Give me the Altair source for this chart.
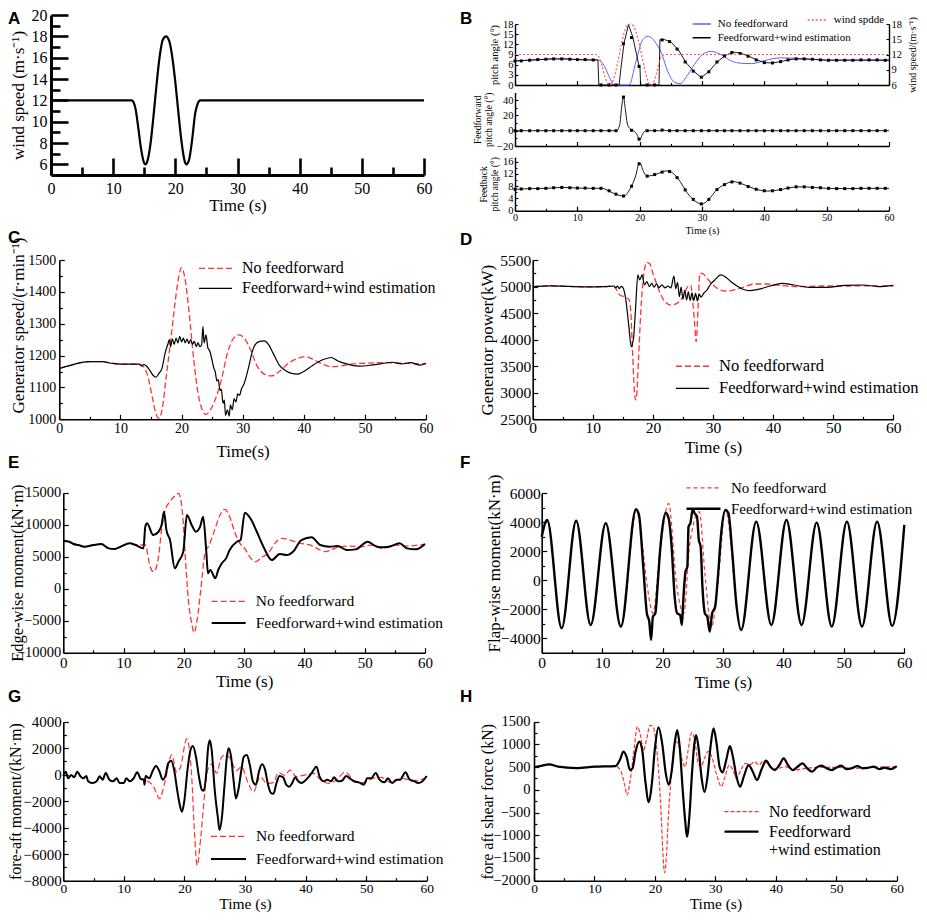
import altair as alt
import pandas as pd

W, H = 911, 904
SERIF = "Liberation Serif"
SANS = "Liberation Sans"
RED = "#ff3333"
BLUE = "#5b62ff"
NOFF = "No feedforward"
FF = "Feedforward+wind estimation"
WIND = "wind spdde"

TIME_TICKS = [0, 10, 20, 30, 40, 50, 60]
TIME_MINOR = [5, 15, 25, 35, 45, 55]

# ---------------- A: wind speed ----------------
A_WIND = [(0, 12), (13.0, 12), (13.3, 11.8), (13.6, 11.2), (14.0, 9.6), (14.5, 7.4), (15.0, 6.1), (15.2, 6.0),
          (15.5, 6.3), (16.0, 7.9), (16.5, 10.6), (17.0, 13.6), (17.5, 16.2), (18.0, 17.7), (18.5, 18.0),
          (19.0, 17.6), (19.5, 16.1), (20.0, 13.7), (20.5, 10.8), (21.0, 8.1), (21.5, 6.3), (21.8, 6.0),
          (22.2, 6.4), (22.7, 8.3), (23.2, 10.8), (23.6, 11.7), (24.0, 12), (60, 12)]
A_Y_MAJOR = [6, 8, 10, 12, 14, 16, 18, 20]
A_Y_MINOR = [7, 9, 11, 13, 15, 17, 19]

# ---------------- B: pitch angles ----------------
B_TOP_NOFF = [(0, 7.1), (2, 7.3), (4, 7.5), (6, 7.7), (8, 7.7), (10, 7.5), (12, 7.4), (13.4, 7.4), (14.3, 5.7),
              (15.1, 2.5), (15.9, 0), (18.3, 0), (19.4, 6.9), (20.5, 13.4), (21.4, 14.4), (22.4, 12.9),
              (23.5, 9.4), (24.5, 4.0), (25.6, 0.8), (26.5, 0.4), (27.7, 3.0), (29.1, 6.9), (30.4, 9.4),
              (31.5, 9.9), (33.1, 8.9), (34.7, 7.1), (36.3, 6.4), (38, 6.3), (40, 7.2), (42.5, 8.0),
              (45, 7.9), (47.5, 7.6), (50, 7.4), (55, 7.4), (60, 7.4)]
B_TOP_FF = [(0, 7.1), (2, 7.3), (4, 7.5), (6, 7.7), (8, 7.7), (10, 7.5), (12, 7.4), (13.3, 7.4), (13.45, 0),
            (16.7, 0), (17.0, 5), (17.5, 12.4), (18.2, 17.8), (18.9, 14.2), (19.5, 9.0), (19.9, 5.5),
            (20.05, 5.3), (20.15, 0), (23.1, 0), (23.25, 13.4), (24.0, 13.4), (25.0, 12.7), (26.2, 10.4),
            (27.4, 6.7), (28.7, 4.0), (29.9, 2.2), (31.1, 4.0), (32.5, 6.9), (33.7, 8.7), (35.0, 9.7),
            (36.2, 9.4), (37.5, 8.5), (38.8, 7.4), (40.0, 6.6), (41.3, 6.5), (42.6, 6.9), (43.8, 7.4),
            (45.1, 7.7), (47.5, 7.6), (50, 7.3), (55, 7.3), (60, 7.3)]
B_MID_FF = [(0, 0), (16.3, 0), (16.8, 8), (17.1, 30), (17.4, 44), (17.7, 28), (18.0, 10), (18.4, 3), (19.0, 0),
            (19.5, -4), (20.0, -12), (20.5, -4), (21.0, 0), (23.3, 0), (23.8, 1), (24.3, 0), (60, 0)]
B_BOT_FF = [(0, 7.0), (2.5, 7.2), (5, 7.3), (7.5, 7.6), (10, 7.4), (12, 7.3), (14, 7.3), (14.8, 6.7), (16, 5.5),
            (17.5, 4.8), (18.5, 7.3), (19.3, 11), (20, 15.7), (20.6, 12.8), (21.2, 11.3), (22.5, 11.8),
            (24.3, 13), (25.3, 12.3), (26.5, 9.5), (27.5, 6.2), (28.5, 3.8), (30, 2.2), (31, 3.5), (32.5, 7.1),
            (33.5, 8.4), (35, 9.5), (36.5, 8.7), (38.5, 7.1), (40.5, 6.4), (42, 6.7), (45.5, 7.8), (48, 7.6),
            (50, 7.3), (53, 7.2), (56, 7.3), (60, 7.3)]
B_MARK_T = [0, 1.0, 2.35, 3.65, 4.95, 6.2, 7.5, 8.8, 10.0, 11.25, 12.55, 13.8, 15.1, 16.2, 17.4, 18.7, 19.9,
            21.2, 22.4, 23.6, 24.8, 26.0, 27.3, 28.6, 29.9, 31.1, 32.4, 33.6, 34.8, 36.1, 37.4, 38.7, 40.0,
            41.3, 42.6, 43.8, 45.1, 46.4, 47.7, 49.0, 50.3, 51.6, 52.9, 54.2, 55.5, 56.8, 58.1, 59.4]
B_MARK_TOP = [7.1, 7.1, 7.3, 7.5, 7.6, 7.7, 7.7, 7.6, 7.5, 7.5, 7.4, 0, 0, 0, 12.2, 14.0, 5.5, 0, 0, 13.3,
              12.8, 10.6, 6.8, 4.1, 2.3, 3.9, 6.8, 8.6, 9.6, 9.3, 8.5, 7.4, 6.6, 6.5, 6.9, 7.4, 7.7, 7.7,
              7.6, 7.4, 7.3, 7.3, 7.3, 7.3, 7.4, 7.4, 7.4, 7.3]
B_MARK_MID = [0, 0, 0, 0, 0, 0, 0, 0, 0, 0, 0, 0, 0, 0, 44, 0.5, -11, 0, 0, 0.8, 0, 0, 0, 0, 0, 0, 0, 0,
              0, 0, 0, 0, 0, 0, 0, 0, 0, 0, 0, 0, 0, 0, 0, 0, 0, 0, 0, 0]
B_MARK_BOT = [7.0, 7.1, 7.2, 7.2, 7.3, 7.5, 7.6, 7.5, 7.4, 7.4, 7.3, 7.3, 6.5, 5.4, 4.8, 8.0, 15.3, 11.3,
              11.8, 12.6, 12.8, 10.8, 6.8, 3.7, 2.2, 3.7, 6.9, 8.5, 9.4, 9.0, 7.9, 7.0, 6.5, 6.5, 6.9, 7.4,
              7.8, 7.8, 7.6, 7.5, 7.3, 7.2, 7.2, 7.2, 7.3, 7.3, 7.3, 7.3]

# ---------------- C: generator speed ----------------
C_NOFF = [(0, 1160), (2, 1170), (3.5, 1178), (5, 1181), (7, 1181), (8.5, 1176), (10, 1173), (13, 1173),
          (13.5, 1170), (14.5, 1134), (15.2, 1071), (15.8, 1019), (16.3, 1003), (16.8, 1029), (17.5, 1134),
          (18.3, 1259), (19, 1375), (19.6, 1453), (20, 1476), (20.5, 1448), (21.2, 1343), (22, 1186),
          (22.7, 1082), (23.4, 1029), (24, 1015), (24.7, 1029), (25.5, 1061), (26.5, 1123), (27.5, 1207),
          (28.5, 1254), (29.4, 1265), (30.3, 1254), (31.3, 1218), (32.3, 1170), (33.5, 1142), (34.7, 1136),
          (36, 1150), (37.5, 1176), (39, 1191), (40.3, 1197), (41.5, 1188), (43, 1174), (44.5, 1165),
          (46, 1167), (48, 1174), (50, 1176), (53, 1178), (56, 1176), (60, 1174)]
C_FF = [(0, 1160), (2, 1170), (3.5, 1178), (5, 1181), (7, 1181), (8.5, 1176), (10, 1173), (13, 1173),
        (13.5, 1167), (13.8, 1172), (14.2, 1168), (14.7, 1157), (15.3, 1139), (15.8, 1132), (16.3, 1144),
        (16.8, 1160), (17.3, 1207), (17.8, 1238), (18.0, 1250), (18.2, 1228), (18.5, 1252), (18.8, 1235),
        (19.1, 1255), (19.4, 1240), (19.7, 1260), (20.0, 1243), (20.3, 1255), (20.6, 1240), (20.9, 1252),
        (21.2, 1238), (21.5, 1250), (21.8, 1235), (22.1, 1245), (22.4, 1228), (22.7, 1240), (23.0, 1228),
        (23.3, 1235), (23.5, 1291), (23.7, 1240), (24.0, 1265), (24.3, 1225), (24.6, 1215), (25.0, 1185),
        (25.3, 1160), (25.5, 1150), (25.8, 1120), (26.0, 1125), (26.3, 1090), (26.5, 1095), (26.8, 1050),
        (27.0, 1060), (27.2, 1012), (27.5, 1030), (27.8, 1010), (28.0, 1045), (28.3, 1030), (28.6, 1065),
        (28.9, 1055), (29.2, 1080), (29.5, 1075), (29.8, 1095), (30.2, 1110), (30.6, 1135), (31, 1165),
        (31.5, 1207), (32, 1233), (32.7, 1244), (33.5, 1246), (34.3, 1233), (35, 1207), (36, 1170),
        (37, 1153), (38, 1144), (39, 1142), (40, 1150), (41.5, 1170), (43, 1186), (44.5, 1194), (45.5, 1184),
        (47, 1174), (49, 1167), (51, 1170), (52.5, 1174), (54.5, 1179), (56, 1174), (57.5, 1178), (59, 1170),
        (60, 1176)]

# ---------------- D: generator power ----------------
D_NOFF = [(0, 5000), (3, 5012), (6, 5003), (9, 4995), (12, 5000), (13.5, 5005), (14.5, 4841), (15.5, 4797),
          (16.0, 4760), (16.3, 4560), (16.6, 3805), (17.0, 2927), (17.2, 2864), (17.6, 3617), (18.0, 4559),
          (18.5, 5249), (19.0, 5456), (19.5, 5425), (20.0, 5249), (20.5, 5092), (21.0, 4935), (22.0, 4715),
          (23.0, 4652), (24.0, 4684), (25.0, 4810), (25.8, 4998), (26.3, 5029), (26.6, 4747), (26.9, 4370),
          (27.2, 3962), (27.5, 4559), (27.8, 5249), (28.2, 5249), (29.0, 5155), (30.0, 5029), (31.0, 4948),
          (32.0, 4916), (33.0, 4923), (35.0, 4985), (37.0, 5048), (39.0, 5048), (41.0, 5023), (44.0, 4998),
          (48.0, 5010), (52.0, 5010), (56.0, 5015), (60.0, 5010)]
D_FF = [(0, 5000), (3, 5012), (6, 5003), (9, 4995), (12, 5000), (13.5, 5010), (13.8, 4975), (14.1, 5010),
        (14.4, 4960), (14.7, 5005), (15.0, 4985), (15.5, 4747), (16.0, 4245), (16.4, 3868), (16.8, 4057),
        (17.1, 4559), (17.5, 5218), (17.8, 5126), (18.2, 5218), (18.6, 5029), (19.0, 5092), (19.4, 5000),
        (19.8, 5060), (20.2, 4990), (20.6, 5050), (21.0, 4980), (21.5, 5030), (22.0, 4975), (22.5, 5010),
        (23.0, 4975), (23.5, 5199), (23.8, 4960), (24.1, 5080), (24.4, 4810), (24.7, 4990), (25.0, 4760),
        (25.3, 4930), (25.6, 4750), (25.9, 4900), (26.2, 4740), (26.5, 4880), (26.8, 4735), (27.1, 4870),
        (27.4, 4730), (27.7, 4860), (28.0, 4800), (28.5, 4880), (29.0, 4935), (29.5, 5029), (30.3, 5123),
        (31.3, 5218), (32, 5186), (33, 5092), (34, 5010), (35, 4948), (36, 4923), (37.5, 4948), (39.5, 5010),
        (41.5, 5060), (43.5, 5029), (46, 4985), (49, 4985), (52, 5023), (55, 5029), (57.5, 5000), (60, 5023)]

# ---------------- E: edge-wise moment ----------------
E_NOFF = [(0, 7500), (1, 7344), (1.7, 6980), (2.5, 6823), (3.5, 6563), (5, 6823), (6.3, 6980), (7.5, 6303),
          (8.5, 6198), (9.5, 6563), (11, 7084), (12, 6823), (13.6, 6828), (14.4, 3437), (15.0, 2656),
          (15.8, 5000), (16.3, 9172), (16.9, 12300), (17.7, 13600), (18.5, 14480), (19.1, 14900),
          (19.5, 13860), (19.9, 10220), (20.3, 3970), (20.7, -1250), (21.3, -5400), (21.7, -6870),
          (22.2, -4900), (22.8, -200), (23.5, 5530), (24.2, 6830), (25.2, 9440), (26.0, 11520), (26.8, 12400),
          (27.6, 11250), (28.5, 8660), (29.3, 7090), (30.1, 6310), (30.9, 5000), (31.9, 4220), (32.9, 4900),
          (34.0, 5530), (35.1, 7090), (36.2, 7870), (37.6, 7600), (39.3, 7090), (40.9, 6830), (42.6, 6050),
          (43.4, 5780), (45.5, 6458), (47.5, 6667), (49.5, 6563), (51, 6823), (53, 6303), (55, 6823),
          (57, 6667), (60, 6980)]
E_FF = [(0, 7500), (1, 7344), (1.7, 6980), (2.5, 6823), (3.5, 6563), (5, 6823), (6.3, 6980), (7.5, 6303),
        (8.5, 6198), (9.5, 6563), (11, 7084), (12, 6823), (13.3, 6303), (13.6, 9688), (13.9, 10220),
        (14.9, 8390), (15.8, 8900), (16.3, 9948), (16.7, 12030), (17.1, 9170), (17.7, 7600), (18.5, 3190),
        (19.1, 4220), (19.9, 5780), (20.5, 11520), (21.3, 9950), (22.0, 8900), (22.7, 9690), (23.2, 11250),
        (23.7, 6050), (24.0, 2400), (24.4, 2920), (25.2, 1630), (25.7, 2920), (26.3, 3970), (27.0, 4740),
        (27.6, 6050), (28.8, 7340), (29.4, 7600), (30.1, 11870), (31.2, 10730), (32.1, 8900), (33.2, 6560),
        (34.6, 4480), (35.9, 5420), (37.1, 5260), (38.1, 5780), (39.5, 7600), (41.2, 8030), (42.6, 6830),
        (44.2, 6560), (45.5, 6667), (47, 6042), (48.5, 6146), (50.5, 7344), (51.5, 6823), (52.5, 6458),
        (54, 6563), (55.8, 7084), (57, 6303), (58.5, 6146), (60, 6980)]

# ---------------- F: flap-wise moment ----------------
F_NOFF = [(0, 3000), (0.9, 4160), (3.3, -3315), (5.7, 4110), (8.1, -3085), (10.6, 3930), (13.1, -3200),
          (15.7, 4800), (16.5, 3000), (17.5, -500), (18.4, -2280), (19.6, 2100), (21.0, 5300), (22.3, -230),
          (23.5, -2300), (24.5, 2500), (26.1, 4735), (27.0, 460), (28.1, -3200), (29.2, 0), (30.4, 4800),
          (33.0, -3430), (35.5, 4045), (38.0, -3085), (40.5, 4160), (43.0, -3085), (45.5, 3975), (48.0, -3200),
          (50.5, 4045), (53.0, -3200), (55.5, 4045), (58.0, -3150), (60, 3815)]
F_FF = [(0, 3000), (0.9, 4160), (3.3, -3315), (5.7, 4110), (8.1, -3085), (10.6, 3930), (13.1, -3200),
        (15.6, 4900), (16.1, 4500), (16.8, 940), (17.4, -2280), (17.8, -2855), (18.1, -4120), (18.4, -2510),
        (18.8, -2280), (19.2, -230), (19.6, 2090), (20.0, 3700), (20.5, 4660), (21.0, 4275), (21.5, 2320),
        (22.0, -1130), (22.4, -2280), (22.9, -2395), (23.2, -3085), (23.4, -1590), (23.8, 600), (24.1, 940),
        (24.3, 3700), (24.6, 3930), (25.0, 4900), (25.3, 4620), (25.7, 4390), (26.0, 2780), (26.3, 2320),
        (26.6, -460), (27.0, -2280), (27.4, -2510), (27.8, -3545), (28.2, -2280), (28.7, -1820), (29.2, 460),
        (29.7, 3240), (30.4, 4850), (30.9, 4620), (31.5, 2090), (32.2, -1590), (33.0, -3430), (35.5, 4045),
        (38.0, -3085), (40.5, 4160), (43.0, -3085), (45.5, 3975), (48.0, -3200), (50.5, 4045), (53.0, -3200),
        (55.5, 4045), (58.0, -3150), (60, 3815)]

# ---------------- G: fore-aft moment ----------------
G_NOFF = [(0, -100), (0.4, 225), (0.8, -277), (1.3, -25), (1.8, -200), (2.3, 225), (2.8, -100), (3.3, -277),
          (3.8, -100), (4.1, -500), (4.8, -630), (5.5, -500), (6.0, -126), (6.5, -377), (7.0, 126), (7.6, -377),
          (8.2, -500), (8.8, -277), (9.3, -630), (10.0, -630), (10.4, -277), (11.0, -500), (11.6, -277),
          (12.2, 176), (12.8, -327), (13.5, -400), (14.9, -900), (15.9, -1800), (16.8, -500), (17.9, 1500),
          (18.7, 200), (19.3, 500), (20.4, 2700), (21.2, -150), (21.7, -4700), (22.1, -6850), (22.7, -4700),
          (23.4, -1150), (23.9, 450), (24.6, 800), (25.3, 100), (26.1, 1300), (26.9, 1500), (27.6, 1200),
          (28.6, 300), (29.4, 600), (30.5, -600), (31.4, -1300), (32.5, -150), (33.6, -650), (34.7, -600),
          (35.5, 150), (36.6, -50), (37.4, 350), (38.5, -150), (39.6, -50), (41.3, 100), (42.4, -350),
          (43.8, -650), (45.1, -400), (46.5, 200), (47.9, -400), (49.5, -600), (51, -300), (52.5, -200),
          (54, -600), (56, -300), (58, -450), (60, -200)]
G_FF = [(0, -100), (0.4, 225), (0.8, -277), (1.3, -25), (1.8, -200), (2.3, 225), (2.8, -100), (3.3, -277),
        (3.8, -100), (4.1, -500), (4.8, -630), (5.5, -500), (6.0, -126), (6.5, -377), (7.0, 126), (7.6, -377),
        (8.2, -500), (8.8, -277), (9.3, -630), (10.0, -630), (10.4, -277), (11.0, -500), (11.6, -277),
        (12.2, 176), (12.8, -327), (13.3, -377), (13.4, -755), (13.6, -100), (14.2, -277), (14.7, 225),
        (15.3, 654), (15.9, 225), (16.4, -377), (16.9, -25), (17.3, 855), (17.8, 1057), (18.3, 352),
        (18.8, -1157), (19.3, -2415), (19.6, -2793), (20.0, -1912), (20.5, 352), (21.0, 1862), (21.4, 2163),
        (21.9, 1358), (22.4, -151), (22.9, -1157), (23.2, -1208), (23.6, 100), (23.9, 1987), (24.2, 2600),
        (24.5, 1862), (25.0, -1157), (25.5, -3170), (25.8, -4177), (26.2, -3170), (26.6, -906), (27.0, 1308),
        (27.3, 1987), (27.7, 1358), (28.1, -377), (28.5, -1787), (28.9, -1157), (29.4, 352), (29.8, 1358),
        (30.3, 1484), (30.8, 729), (31.3, -500), (31.8, -755), (32.3, 225), (32.8, 780), (33.3, 402),
        (33.8, -755), (34.3, -1384), (34.7, -1434), (35.2, -630), (35.7, -100), (36.3, -200), (36.8, -755),
        (37.3, -906), (37.8, -630), (38.3, -200), (38.8, -500), (39.3, -630), (39.8, -500), (40.3, -277),
        (41.0, 126), (41.8, 604), (42.3, -126), (43.0, -500), (43.6, -377), (44.2, -500), (44.7, -200),
        (45.3, -500), (46.0, -453), (46.7, -100), (47.3, -277), (48.0, -500), (48.8, -579), (49.6, -755),
        (50.2, -277), (50.8, -277), (51.6, 126), (52.2, -377), (53.0, -579), (53.6, -277), (54.3, -630),
        (55.0, -377), (55.6, -377), (56.5, 176), (57.2, -377), (58.0, -500), (58.6, -630), (59.3, -500),
        (60, -100)]

# ---------------- H: fore-aft shear force ----------------
H_NOFF = [(0, 500), (1, 524), (2.5, 561), (4, 510), (7, 480), (10, 510), (13.5, 520), (14.3, 436), (15.0, 106),
          (15.4, -114), (16.0, 289), (16.6, 950), (17.1, 1390), (17.6, 1206), (18.1, 860), (18.6, 1096),
          (19.2, 1420), (19.7, 1390), (20.2, 1023), (20.6, 436), (21.0, -445), (21.3, -1325), (21.6, -1824),
          (21.9, -1472), (22.2, -665), (22.6, 142), (23.0, 766), (23.5, 1060), (24.0, 950), (24.5, 656),
          (25.0, 509), (25.5, 876), (26.1, 1260), (26.6, 1096), (27.1, 618), (27.6, 509), (28.2, 692),
          (28.8, 850), (29.5, 692), (30.3, 289), (31.0, 75), (31.6, 289), (32.3, 546), (32.9, 436), (33.5, 253),
          (34.2, 436), (35.0, 583), (35.8, 561), (36.5, 620), (37.2, 546), (38.0, 641), (38.8, 546), (40, 458),
          (41.5, 509), (43, 436), (45, 473), (47, 495), (50, 495), (53, 473), (56, 495), (60, 510)]
H_FF = [(0, 500), (1, 524), (2.5, 561), (4, 510), (7, 480), (10, 510), (13.5, 524), (14.2, 656), (14.8, 840),
        (15.3, 730), (15.9, 436), (16.3, 473), (16.8, 840), (17.4, 1060), (17.9, 876), (18.4, 216), (19.0, -270),
        (19.5, 142), (20.0, 913), (20.6, 1375), (21.2, 1023), (21.8, 363), (22.3, 110), (22.8, 436),
        (23.3, 1060), (23.7, 1317), (24.1, 950), (24.6, -4), (25.0, -665), (25.3, -1032), (25.7, -591),
        (26.1, 289), (26.5, 986), (26.8, 1206), (27.2, 950), (27.7, 289), (28.2, -45), (28.7, 289), (29.2, 950),
        (29.7, 1353), (30.2, 1023), (30.7, 509), (31.2, 385), (31.8, 656), (32.4, 964), (32.9, 730),
        (33.5, 289), (34.1, 69), (34.7, 289), (35.5, 546), (36.2, 399), (36.9, 216), (37.6, 436), (38.4, 641),
        (39.1, 509), (39.8, 436), (40.6, 546), (41.3, 692), (42.0, 546), (42.8, 436), (43.6, 509), (44.4, 583),
        (45.2, 473), (46.0, 399), (46.8, 495), (47.6, 531), (48.4, 473), (49.2, 436), (50.0, 487), (50.8, 531),
        (51.7, 458), (52.5, 473), (53.5, 524), (54.4, 473), (55.3, 487), (56.2, 510), (57.1, 458), (58.0, 487),
        (59.0, 458), (60, 524)]


# ---------------- helpers ----------------
def tv(pairs, series=None):
    df = pd.DataFrame(pairs, columns=["t", "v"])
    if series is not None:
        df["series"] = series
    return df


def xs(x0, x1):
    return alt.Scale(domain=[0, 60], range=[x0, x1], nice=False, zero=False)


def ys(d0, d1, ybot, ytop):
    return alt.Scale(domain=[d0, d1], range=[ybot, ytop], nice=False, zero=False)


def left_axis(x, vals, fs, title, tfs, lpad, tpad, dw=1.6, tx=None, ty=None):
    kw = dict(orient="left", offset=-x, values=vals, format="d", ticks=False, tickSize=0, domainWidth=dw,
              domainColor="black", labelColor="black", labelFont=SERIF, labelFontSize=fs, labelPadding=lpad,
              title=title, titleFont=SERIF, titleFontWeight="normal", titleColor="black", titleFontSize=tfs,
              titlePadding=tpad)
    if tx is not None:
        kw["titleX"] = tx
    if ty is not None:
        kw["titleY"] = ty
    return alt.Axis(**kw)


def bottom_axis(y, fs, title, tfs, lpad, tpad, dw=1.6, labels=True, ty=None):
    kw = dict(orient="bottom", offset=y - H, values=TIME_TICKS, format="d", ticks=False, tickSize=0,
              domainWidth=dw, domainColor="black", labels=labels, labelColor="black", labelFont=SERIF,
              labelFontSize=fs, labelPadding=lpad, title=title, titleFont=SERIF, titleFontWeight="normal",
              titleColor="black", titleFontSize=tfs, titlePadding=tpad)
    if ty is not None:
        kw["titleY"] = ty
        kw["titleBaseline"] = "alphabetic"
    return alt.Axis(**kw)


def yticks(x, vals, size, width, side="right"):
    off = (x - W) if side == "right" else -x
    return alt.Axis(orient=side, offset=off, values=vals, tickSize=size, tickWidth=width, tickColor="black",
                    labels=False, domain=False, title=None)


def xticks(y, vals, size, width):
    return alt.Axis(orient="top", offset=-y, values=vals, tickSize=size, tickWidth=width, tickColor="black",
                    labels=False, domain=False, title=None)


def pair_legend(lx, ly, fs, sym, rowpad, label_expr=None):
    kw = dict(orient="none", legendX=lx, legendY=ly, title=None, symbolType="stroke", symbolSize=sym * sym,
              clipHeight=fs, rowPadding=rowpad, labelFont=SERIF, labelFontSize=fs, labelOffset=9, padding=0)
    if label_expr is not None:
        kw["labelExpr"] = label_expr
    return alt.Legend(**kw)


def two_series(noff, ff, xr, yd, yr, xmain, ymain, xmaj, ymaj, xmin, ymin, red_w, blk_w, dash, legend):
    xsc = xs(*xr)
    ysc = ys(yd[0], yd[1], yr[0], yr[1])
    red = alt.Chart(tv(noff, NOFF)).mark_line(interpolate="monotone").encode(
        x=alt.X("t:Q", scale=xsc, axis=xmain),
        y=alt.Y("v:Q", scale=ysc, axis=ymain),
        color=alt.Color("series:N", scale=alt.Scale(domain=[NOFF, FF], range=[RED, "black"]), legend=legend),
        strokeDash=alt.StrokeDash("series:N", scale=alt.Scale(domain=[NOFF, FF], range=[dash, [1, 0]]),
                                  legend=legend),
        strokeWidth=alt.StrokeWidth("series:N", scale=alt.Scale(domain=[NOFF, FF], range=[red_w, blk_w]),
                                    legend=legend),
    )
    blk = alt.Chart(tv(ff)).mark_line(color="black", strokeWidth=blk_w, interpolate="monotone").encode(
        x=alt.X("t:Q", scale=xsc, axis=xmaj), y=alt.Y("v:Q", scale=ysc, axis=ymaj))
    car = alt.Chart(tv(ff)).mark_line(opacity=0).encode(
        x=alt.X("t:Q", scale=xsc, axis=xmin), y=alt.Y("v:Q", scale=ysc, axis=ymin))
    return [red, blk, car]


def letter(s, x, y):
    return alt.Chart(pd.DataFrame({"k": [0]})).mark_text(
        text=s, font=SANS, fontSize=17, fontWeight="bold", align="left", baseline="alphabetic", color="black"
    ).encode(x=alt.value(x), y=alt.value(y))


layers = []

# ---------------- Panel A ----------------
ax0, ax1, ay0, ay1 = 43, 416, 167, 7
sA_x = xs(ax0, ax1)
sA_y = ys(5, 20, ay0, ay1)
dfA = tv(A_WIND)
layers += [
    alt.Chart(dfA).mark_line(color="black", strokeWidth=2.2, interpolate="monotone").encode(
        x=alt.X("t:Q", scale=sA_x, axis=bottom_axis(ay0, 16, "Time (s)", 17, 5, 3, dw=3, ty=35.5)),
        y=alt.Y("v:Q", scale=sA_y, axis=left_axis(ax0, A_Y_MAJOR, 16, "wind speed (m·s⁻¹)", 17, 4, 3, dw=3,
                                                   tx=-24))),
    alt.Chart(dfA).mark_line(opacity=0).encode(
        x=alt.X("t:Q", scale=sA_x, axis=xticks(ay0, TIME_TICKS, 17, 2.6)),
        y=alt.Y("v:Q", scale=sA_y, axis=yticks(ax0, A_Y_MAJOR, 17, 2.6))),
    alt.Chart(dfA).mark_line(opacity=0).encode(
        x=alt.X("t:Q", scale=sA_x, axis=xticks(ay0, TIME_MINOR, 8, 2.6)),
        y=alt.Y("v:Q", scale=sA_y, axis=yticks(ax0, A_Y_MINOR, 9, 2.6))),
]

# ---------------- Panel B ----------------
bx0, bx1 = 507, 881
sB_x = xs(bx0, bx1)
bt0, bt1 = 77, 16
sB_top = ys(0, 18, bt0, bt1)
sB_wind = ys(6, 18, bt0, bt1)
B_PITCH_TICKS = [0, 3, 6, 9, 12, 15, 18]
B_WIND_TICKS = [6, 9, 12, 15, 18]
legB = alt.Legend(orient="none", legendX=683.7, legendY=10.5, title=None, symbolType="stroke", symbolSize=324,
                  clipHeight=11, rowPadding=1.7, labelFont=SERIF, labelFontSize=11, labelOffset=6, padding=0)
legW = alt.Legend(orient="none", legendX=798.7, legendY=6.5, title=None, symbolType="stroke", symbolSize=400,
                  clipHeight=11, labelFont=SERIF, labelFontSize=11, labelOffset=5, padding=0)
dfBmT = pd.DataFrame({"t": B_MARK_T, "v": B_MARK_TOP})
dfBmM = pd.DataFrame({"t": B_MARK_T, "v": B_MARK_MID})
dfBmB = pd.DataFrame({"t": B_MARK_T, "v": B_MARK_BOT})
layers += [
    alt.Chart(tv(B_TOP_NOFF, NOFF)).mark_line(strokeWidth=1.0, interpolate="monotone").encode(
        x=alt.X("t:Q", scale=sB_x, axis=bottom_axis(bt0, 10, None, 10, 2, 2, dw=1.4, labels=False)),
        y=alt.Y("v:Q", scale=sB_top, axis=left_axis(bx0, B_PITCH_TICKS, 10.5, "pitch angle (°)", 10.5, 2, 3,
                                                     dw=1.4)),
        color=alt.Color("series:N", scale=alt.Scale(domain=[NOFF, FF], range=[BLUE, "black"]), legend=legB)),
    alt.Chart(tv(B_TOP_FF)).mark_line(color="black", strokeWidth=0.9).encode(
        x=alt.X("t:Q", scale=sB_x, axis=xticks(bt0, TIME_TICKS, 4.5, 1.2)),
        y=alt.Y("v:Q", scale=sB_top, axis=yticks(bx0, B_PITCH_TICKS, 3, 1.1))),
    alt.Chart(dfBmT).mark_point(shape="square", filled=True, size=9, color="black", opacity=1).encode(
        x=alt.X("t:Q", scale=sB_x, axis=xticks(bt0, TIME_MINOR, 2.5, 1.1)),
        y=alt.Y("v:Q", scale=sB_top, axis=None)),
    alt.Chart(tv(A_WIND, WIND)).mark_line(strokeWidth=1.2, interpolate="monotone").encode(
        x=alt.X("t:Q", scale=sB_x, axis=None),
        y=alt.Y("v:Q", scale=sB_wind,
                axis=alt.Axis(orient="right", offset=bx1 - W, values=B_WIND_TICKS, format="d", ticks=False,
                              tickSize=0, domainWidth=1.4, domainColor="black", labelColor="black",
                              labelFont=SERIF, labelFontSize=10.5, labelPadding=2, title="wind speed/(m·s⁻¹)",
                              titleFont=SERIF, titleFontWeight="normal", titleColor="black", titleFontSize=10,
                              titleAngle=270, titleX=28, titleBaseline="bottom")),
        color=alt.Color("series:N", scale=alt.Scale(domain=[WIND], range=["#ff5555"]), legend=legW),
        strokeDash=alt.StrokeDash("series:N", scale=alt.Scale(domain=[WIND], range=[[2, 2]]), legend=legW)),
    alt.Chart(tv(A_WIND)).mark_line(opacity=0).encode(
        x=alt.X("t:Q", scale=sB_x, axis=None),
        y=alt.Y("v:Q", scale=sB_wind, axis=yticks(bx1, B_WIND_TICKS, 3, 1.1, side="left"))),
]
bm0, bm1 = 138, 84.5
sB_mid = ys(-20, 50, bm0, bm1)
layers += [
    alt.Chart(tv(B_MID_FF)).mark_line(color="black", strokeWidth=0.9, interpolate="monotone").encode(
        x=alt.X("t:Q", scale=sB_x, axis=bottom_axis(bm0, 10, None, 10, 2, 2, dw=1.4, labels=False)),
        y=alt.Y("v:Q", scale=sB_mid, axis=left_axis(bx0, [-20, 0, 20, 40], 10.5, ["Feedforward", "pitch angle (°)"],
                                                     9.5, 2, 3, dw=1.4))),
    alt.Chart(dfBmM).mark_point(shape="square", filled=True, size=9, color="black", opacity=1).encode(
        x=alt.X("t:Q", scale=sB_x, axis=xticks(bm0, TIME_TICKS, 4.5, 1.2)),
        y=alt.Y("v:Q", scale=sB_mid, axis=yticks(bx0, [-20, 0, 20, 40], 3, 1.1))),
    alt.Chart(dfBmM).mark_point(opacity=0).encode(
        x=alt.X("t:Q", scale=sB_x, axis=xticks(bm0, TIME_MINOR, 2.5, 1.1)),
        y=alt.Y("v:Q", scale=sB_mid, axis=yticks(bx0, [-10, 10, 30], 2, 1.1))),
]
bb0, bb1 = 202.7, 149.1
sB_bot = ys(0, 17.5, bb0, bb1)
layers += [
    alt.Chart(tv(B_BOT_FF)).mark_line(color="black", strokeWidth=0.9, interpolate="monotone").encode(
        x=alt.X("t:Q", scale=sB_x, axis=bottom_axis(bb0, 10, "Time (s)", 10, 2, 4, dw=1.4, ty=22.3)),
        y=alt.Y("v:Q", scale=sB_bot, axis=left_axis(bx0, [0, 4, 8, 12, 16], 10.5, ["Feedback", "pitch angle (°)"],
                                                     9.5, 2, 3, dw=1.4))),
    alt.Chart(dfBmB).mark_point(shape="square", filled=True, size=9, color="black", opacity=1).encode(
        x=alt.X("t:Q", scale=sB_x, axis=xticks(bb0, TIME_TICKS, 4.5, 1.2)),
        y=alt.Y("v:Q", scale=sB_bot, axis=yticks(bx0, [0, 4, 8, 12, 16], 3, 1.1))),
    alt.Chart(dfBmB).mark_point(opacity=0).encode(
        x=alt.X("t:Q", scale=sB_x, axis=xticks(bb0, TIME_MINOR, 2.5, 1.1)),
        y=alt.Y("v:Q", scale=sB_bot, axis=yticks(bx0, [2, 6, 10, 14], 2, 1.1))),
]

# ---------------- Panels C-H ----------------
PANELS = [
    dict(noff=C_NOFF, ff=C_FF, xr=(51.3, 418), yd=(1000, 1500), yr=(411.3, 252),
         ymaj=[1000, 1100, 1200, 1300, 1400, 1500], ymin=[1050, 1150, 1250, 1350, 1450],
         yfs=14, yt="Generator speed/(r·min⁻¹)", ytfs=17, ylp=3.5, ytp=6, tx=-32.3, tyy=317,
         xfs=14, xt="Time(s)", xlp=2.5, xtp=7, txx=36.7, xtfs=17,
         rw=1.3, bw=1.2, dash=[6, 3], leg=(190, 252.3, 16, 33, 4), lex=None),
    dict(noff=D_NOFF, ff=D_FF, xr=(524.7, 885.3), yd=(2500, 5500), yr=(411.3, 252),
         ymaj=[2500, 3000, 3500, 4000, 4500, 5000, 5500], ymin=[2750, 3250, 3750, 4250, 4750, 5250],
         yfs=15.5, yt="Generator power(kW)", ytfs=17, ylp=2, ytp=3, tx=-36, tyy=None,
         xfs=15.5, xt="Time (s)", xlp=1.5, xtp=5, txx=33.2, xtfs=17,
         rw=1.3, bw=1.2, dash=[6, 3], leg=(667, 350, 16.5, 33, 5.2), lex=None),
    dict(noff=E_NOFF, ff=E_FF, xr=(55.3, 417), yd=(-10000, 15000), yr=(644.7, 484.7),
         ymaj=[-10000, -5000, 0, 5000, 10000, 15000], ymin=[-7500, -2500, 2500, 7500, 12500],
         yfs=14.5, yt="Edge-wise moment(kN·m)", ytfs=16.5, ylp=2.5, ytp=3, tx=-37.5, tyy=None,
         xfs=15, xt="Time (s)", xlp=2.5, xtp=7, txx=33.3, xtfs=17,
         rw=1.3, bw=2.0, dash=[6, 3], leg=(202.7, 585.7, 15.5, 34, 4.5), lex=None),
    dict(noff=F_NOFF, ff=F_FF, xr=(533.7, 896.3), yd=(-5000, 6000), yr=(644.7, 485.3),
         ymaj=[-4000, -2000, 0, 2000, 4000, 6000], ymin=[-5000, -3000, -1000, 1000, 3000, 5000],
         yfs=15.5, yt="Flap-wise moment(kN·m)", ytfs=17, ylp=1.5, ytp=5, tx=-38.4, tyy=555,
         xfs=15.5, xt="Time (s)", xlp=2.5, xtp=7, txx=34.3, xtfs=17,
         rw=1.2, bw=2.4, dash=[4, 3], leg=(677, 472.3, 15, 34, 5), lex=None),
    dict(noff=G_NOFF, ff=G_FF, xr=(55.3, 418.7), yd=(-8000, 4000), yr=(872.7, 713.7),
         ymaj=[-8000, -6000, -4000, -2000, 0, 2000, 4000], ymin=[-7000, -5000, -3000, -1000, 1000, 3000],
         yfs=15, yt="fore-aft moment/(kN·m)", ytfs=16, ylp=2, ytp=6, tx=-39.5, tyy=None,
         xfs=13.5, xt="Time (s)", xlp=1, xtp=4, txx=27.5, xtfs=15.5,
         rw=1.2, bw=2.0, dash=[6, 3], leg=(202, 820.7, 15.5, 35, 5.5), lex=None),
    dict(noff=H_NOFF, ff=H_FF, xr=(526, 888.7), yd=(-2000, 1500), yr=(872.7, 713.7),
         ymaj=[-2000, -1500, -1000, -500, 0, 500, 1000, 1500],
         ymin=[-1750, -1250, -750, -250, 250, 750, 1250],
         yfs=14.5, yt="fore aft shear force  (kN)", ytfs=16, ylp=4, ytp=5, tx=-39, tyy=None,
         xfs=13.5, xt="Time (s)", xlp=1, xtp=3, txx=27.5, xtfs=15.5,
         rw=1.2, bw=2.2, dash=[4, 2], leg=(715, 795.7, 16, 34, 4),
         lex=f"datum.label === '{FF}' ? ['Feedforward', '\u00a0\u00a0\u00a0+wind estimation'] : datum.label"),
]

for p in PANELS:
    x0, x1 = p["xr"]
    ybot, ytop = p["yr"]
    lx, ly, lfs, lsym, lrp = p["leg"]
    leg = pair_legend(lx, ly, lfs, lsym, lrp, p["lex"])
    layers += two_series(
        p["noff"], p["ff"], p["xr"], p["yd"], p["yr"],
        bottom_axis(ybot, p["xfs"], p["xt"], p["xtfs"], p["xlp"], p["xtp"], ty=p["txx"]),
        left_axis(x0, p["ymaj"], p["yfs"], p["yt"], p["ytfs"], p["ylp"], p["ytp"], tx=p["tx"], ty=p["tyy"]),
        xticks(ybot, TIME_TICKS, 5, 1.2), yticks(x0, p["ymaj"], 5, 1.2),
        xticks(ybot, TIME_MINOR, 3, 1.2), yticks(x0, p["ymin"], 3, 1.2),
        p["rw"], p["bw"], p["dash"], leg)

layers += [letter("A", 0, 16), letter("B", 452, 16), letter("C", 0, 235), letter("D", 452, 237),
           letter("E", 0, 460), letter("F", 452, 460), letter("G", 0, 694), letter("H", 452, 694)]

chart = alt.layer(*layers).resolve_scale(
    x="independent", y="independent", color="independent", strokeDash="independent", strokeWidth="independent"
).properties(
    width=W, height=H, padding=0, autosize=alt.AutoSizeParams(type="none")
).configure_view(strokeWidth=0).configure_axis(
    domainColor="black", tickColor="black", labelColor="black", titleColor="black",
    labelFont=SERIF, titleFont=SERIF, titleFontWeight="normal", grid=False, labelFlush=False,
    labelOverlap=False, minExtent=0
).configure_legend(labelFont=SERIF, labelColor="black", labelLimit=600, padding=0)

chart.save("out.html", embed_options={"renderer": "svg", "actions": False})
